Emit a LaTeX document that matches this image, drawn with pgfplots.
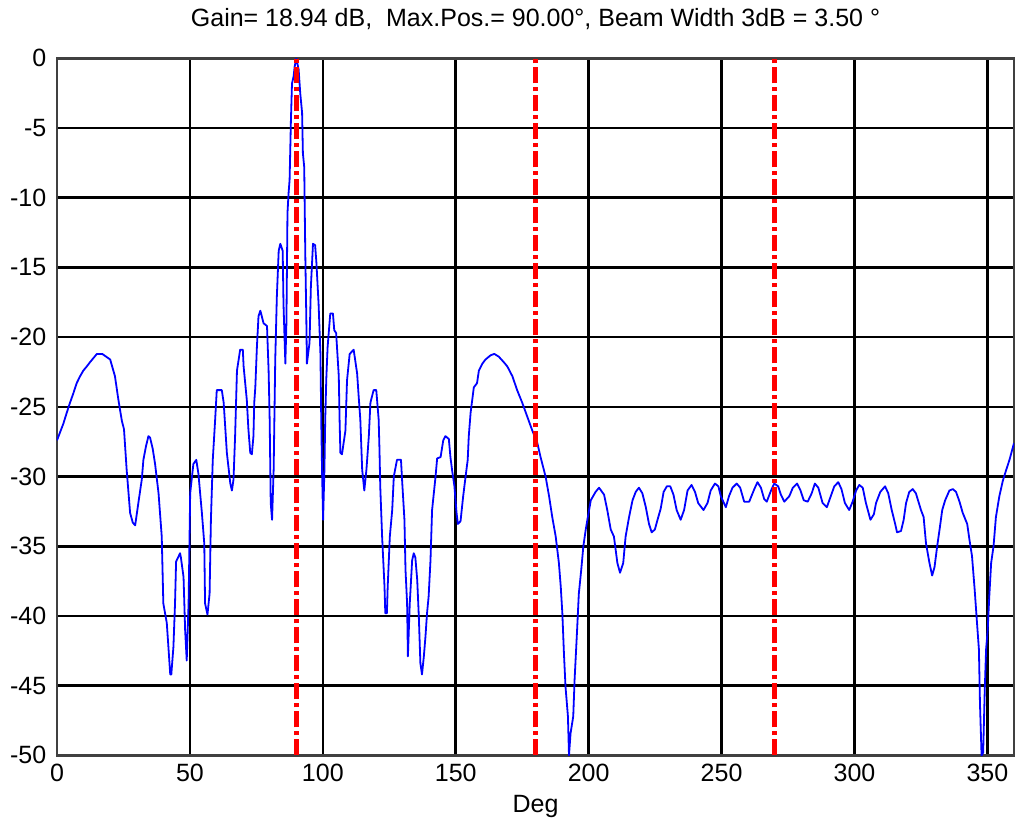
\documentclass[border=0pt]{standalone}
\usepackage{fontspec}
\setmainfont{Liberation Sans}
\usepackage{pgfplots}
\pgfplotsset{compat=1.18}
\definecolor{beamblue}{RGB}{0,0,255}
\definecolor{markred}{RGB}{255,0,0}

\begin{document}
\fontsize{12.5}{15}\selectfont
\begin{tikzpicture}
\begin{axis}[
  scale only axis,
  width=478.5pt, height=348.5pt,
  xmin=0, xmax=360, ymin=-50, ymax=0,
  xtick={0,50,...,350},
  ytick={-50,-45,...,0},
  grid=major,
  major grid style={black, line width=1.3pt},
  axis line style={black!75, line width=1.3pt},
  major tick length=0pt,
  /pgf/number format/assume math mode=true,
  ticklabel style={font=\fontsize{12.5}{15}\selectfont},
  yticklabel style={xshift=-1pt},
  xlabel={Deg},
  xlabel style={font=\fontsize{12.5}{15}\selectfont, yshift=2pt},
  title={Gain= 18.94 dB,\ \ Max.Pos.= 90.00°, Beam Width 3dB = 3.50 °},
  title style={font=\fontsize{12.5}{15}\selectfont, yshift=4pt},
]
\addplot[beamblue, line width=0.9pt, line join=round] coordinates {
(0,-27.4) (1.2,-26.8) (2.4,-26.2) (3.7,-25.4) (4.9,-24.7) (6.2,-24.0) (7.4,-23.3)
(8.7,-22.8) (9.9,-22.4) (11.2,-22.1) (12.4,-21.8) (13.7,-21.5) (15,-21.2) (17,-21.2)
(18.5,-21.4) (20,-21.6) (21.8,-22.8) (23.1,-24.5) (24.4,-26.0) (25.2,-26.6) (26.2,-29.5)
(27.5,-32.6) (28.5,-33.3) (29.4,-33.5) (30.6,-31.9) (31.9,-30.2) (32.5,-28.8) (33.5,-27.8)
(34.4,-27.1) (35,-27.2) (36,-28.0) (36.9,-29.1) (38.2,-31.2) (39.4,-34.3) (40,-39.1)
(41.3,-40.5) (41.9,-42.2) (42.6,-44.2) (43,-44.2) (43.8,-42.2) (44.4,-39.1) (44.8,-36.1)
(46.3,-35.5) (46.6,-35.8) (47.6,-37.2) (48.2,-41) (48.8,-43.2) (49.5,-39.1) (50.1,-31.2)
(51.3,-29.1) (52.4,-28.8) (53.2,-29.8) (54.5,-32.6) (55.4,-34.8) (55.7,-39.1) (56.6,-39.9)
(57.4,-38.4) (57.9,-33.1) (58.6,-28.8) (59.5,-25.9) (60.1,-23.8) (62,-23.8) (62.7,-24.7)
(63.3,-26.5) (63.9,-28.3) (65.2,-30.5) (65.8,-31) (66.4,-30.2) (67,-27.1) (67.7,-22.4)
(68.9,-20.9) (69.9,-20.9) (70.2,-22.1) (71.4,-24.5) (72,-26.6) (72.7,-28.3) (73.3,-28.4)
(73.9,-27.1) (74.2,-24.7) (74.6,-23.6) (75.2,-20.7) (75.8,-18.5) (76.5,-18.1) (77.7,-19)
(79,-19.2) (79.6,-22.4) (80.0,-25.9) (80.4,-31.9) (80.9,-33.1) (81.5,-29.5) (82.1,-21.6)
(82.7,-17.1) (83.4,-13.8) (84,-13.3) (84.9,-13.8) (85.2,-17.6) (85.9,-21.9) (86.3,-19)
(86.7,-11.1) (87.1,-9.7) (87.5,-8.7) (88,-4.4) (88.4,-1.8) (89,-1.3) (89.4,-0.6) (90,0)
(90.9,-0.8) (91.5,-2.5) (92.2,-3.9) (92.5,-6.8) (93,-7.8) (93.4,-14) (93.8,-18.8)
(94,-21.9) (95,-20.4) (95.5,-16.4) (96.3,-13.3) (97.1,-13.4) (97.6,-14.7) (98.4,-17.6)
(99.1,-21.2) (99.4,-25.9) (99.7,-29.5) (100.1,-33.1) (100.6,-29.5) (100.9,-25.9)
(101.3,-23) (101.8,-20.7) (102.8,-18.3) (103.8,-18.3) (104.3,-19.5) (105,-19.7)
(106,-22.8) (106.3,-25.9) (106.6,-28.3) (107.2,-28.4) (108.5,-26.7) (109.1,-23.1)
(110.1,-21.2) (111.6,-20.9) (112.9,-22.6) (113.5,-24.3) (114.1,-25.9) (114.8,-29.5)
(115.6,-31) (116.4,-29.5) (117.3,-27.1) (117.9,-24.7) (119.1,-23.8) (120.1,-23.8)
(121,-25.9) (121.3,-28) (121.6,-30.7) (122.3,-34.3) (123.2,-37.9) (123.5,-39.8)
(124.1,-39.8) (124.4,-37.9) (125.2,-34.3) (126.1,-32.4) (126.7,-30) (127.9,-28.8)
(129.4,-28.8) (129.8,-30.2) (130.7,-33.1) (131.1,-36.7) (131.7,-39.1) (132,-42.9)
(132.7,-39.1) (133.6,-36) (134.2,-35.5) (134.8,-35.8) (135.5,-37.4) (136.1,-40)
(136.7,-43.4) (137.3,-44.2) (138,-42.9) (138.6,-41.5) (139.2,-39.8) (139.8,-38.6)
(140.5,-36) (141.1,-32.4) (142.4,-30) (143,-28.7) (144.3,-28.6) (145.3,-27.4)
(146.1,-27.1) (147.4,-27.3) (148,-28.6) (148.6,-29.5) (149.5,-30.7) (150.3,-32.6)
(150.8,-33.4) (151.8,-33.2) (152.8,-31.4) (153.7,-30) (154.5,-28.8) (154.9,-27.1)
(155.6,-25.4) (156.8,-23.6) (158,-23.3) (158.7,-22.4) (160,-21.9) (161.2,-21.6)
(163.1,-21.3) (164.5,-21.2) (166.2,-21.4) (168.1,-21.8) (169.4,-22.1) (171.3,-22.8)
(173.1,-23.8) (175,-24.7) (176.9,-25.7) (178.8,-26.7) (180.7,-27.6) (181.9,-28.6)
(183.8,-30) (185.1,-31.4) (186.3,-32.9) (187.6,-34.3) (188.8,-36.2) (189.5,-37.9)
(190.1,-39.8) (190.7,-42.7) (191.3,-45.1) (192.2,-47.2) (192.6,-50) (193.2,-48.4)
(194.2,-47.2) (194.7,-44.6) (195.7,-40.8) (196.3,-38.4) (197.2,-36.7) (198,-35)
(198.9,-33.8) (199.7,-32.9) (200.8,-31.7) (202.6,-31.1) (203.9,-30.8) (205.8,-31.3)
(207,-32.4) (208.3,-33.8) (209.5,-34.3) (210.8,-36.2) (211.8,-36.9) (213,-36.2)
(213.9,-34.3) (215.2,-32.9) (216.5,-31.7) (217.7,-31.1) (218.9,-30.8) (220.2,-31.2)
(221.5,-32.2) (222.7,-33.4) (223.7,-34) (224.9,-33.8) (225.9,-33.1) (227.1,-32.3)
(228.2,-31.1) (229.4,-30.7) (230.7,-30.7) (231.9,-31.3) (233.1,-32.4) (234.6,-33.1)
(235.9,-32.4) (237.2,-31) (238.7,-30.6) (240,-31.1) (241.2,-31.9) (243.2,-32.4)
(244.7,-31.9) (245.9,-31) (247.5,-30.5) (248.8,-30.7) (249.7,-31.4) (251.6,-32.2)
(252.8,-31.4) (254.1,-30.8) (255.7,-30.5) (257,-30.8) (258.5,-31.8) (260.4,-31.8)
(262.3,-30.9) (263.5,-30.4) (264.8,-30.8) (266,-31.6) (267,-31.8) (268.6,-31)
(269.8,-30.5) (271.3,-30.7) (272.3,-31.3) (273.6,-31.8) (275.5,-31.4) (276.8,-30.8)
(278.4,-30.5) (279.7,-31) (280.9,-31.7) (282.4,-31.8) (283.9,-31.2) (285.1,-30.5)
(286.4,-30.8) (288,-31.9) (289.6,-32.2) (290.9,-31.5) (292.4,-30.7) (293.9,-30.4)
(295.1,-30.9) (296.4,-31.9) (298,-32.4) (299.3,-31.8) (300.6,-31) (301.8,-30.6)
(303.1,-30.8) (304.3,-31.9) (306,-33.1) (307.3,-32.7) (308.1,-31.9) (309.7,-31.1)
(311.5,-30.7) (312.7,-31.2) (314,-32.4) (315.3,-33.4) (316,-34) (317.5,-33.9)
(318.5,-33.1) (319.4,-31.9) (320.6,-31.1) (321.9,-30.9) (323.1,-31.2) (325,-32.4)
(326,-32.9) (326.9,-34.8) (328.2,-36.2) (329.2,-37.1) (330.1,-36.5) (331.1,-35)
(332,-33.8) (333,-32.4) (334.1,-31.7) (335.7,-31) (337,-30.9) (338.2,-31.1)
(339.5,-31.8) (340.7,-32.6) (342.4,-33.4) (343.3,-34.6) (344.2,-35.7) (345.2,-38.1)
(345.9,-40) (346.8,-42.4) (347.2,-46.3) (347.8,-50) (348.4,-49.8) (349,-45.3)
(349.5,-42.4) (350.1,-41) (350.7,-38.6) (351.4,-36.2) (352.3,-35) (353.2,-32.9)
(354.5,-31.4) (355.8,-30.3) (357.1,-29.5) (358.3,-28.8) (360,-27.6)
};
\addplot[markred, line width=2.4pt, dash pattern=on 8pt off 2pt on 2pt off 2pt] coordinates {(90,-50) (90,0)};
\addplot[markred, line width=2.4pt, dash pattern=on 8pt off 2pt on 2pt off 2pt] coordinates {(180,-50) (180,0)};
\addplot[markred, line width=2.4pt, dash pattern=on 8pt off 2pt on 2pt off 2pt] coordinates {(270,-50) (270,0)};
\end{axis}
\path (current axis.south west) ++(-28.5pt,-39pt);
\path (current axis.north east) ++(2pt,27.5pt);
\end{tikzpicture}
\end{document}
